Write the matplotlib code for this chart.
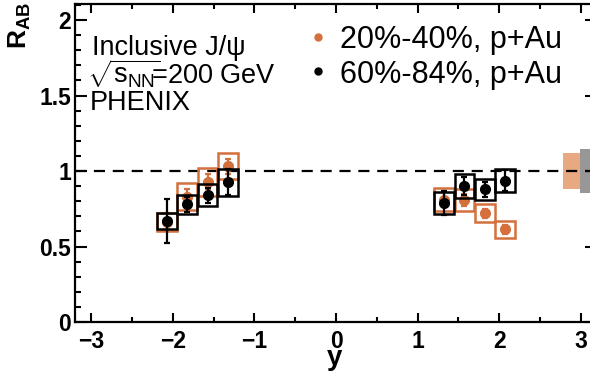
import matplotlib
matplotlib.use("Agg")
import matplotlib.pyplot as plt
from matplotlib.patches import Rectangle
import numpy as np

plt.rcParams['font.family'] = ['Liberation Sans', 'DejaVu Sans']
plt.rcParams['mathtext.fontset'] = 'custom'
plt.rcParams['mathtext.rm'] = 'Liberation Sans'
plt.rcParams['mathtext.it'] = 'Liberation Sans:italic'
plt.rcParams['mathtext.bf'] = 'Liberation Sans:bold'

# ---- data ----
y_bins = [-2.075, -1.825, -1.575, -1.325, 1.325, 1.575, 1.825, 2.075]
box_halfwidth = 0.12

# 20%-40%, p+Au
r_2040 = [0.66, 0.83, 0.93, 1.03, 0.81, 0.81, 0.72, 0.615]
stat_2040 = [0.06, 0.05, 0.05, 0.05, 0.05, 0.04, 0.03, 0.03]
syst_2040 = [0.06, 0.09, 0.093, 0.086, 0.075, 0.072, 0.06, 0.056]

# 60%-84%, p+Au
r_6084 = [0.669, 0.78, 0.84, 0.925, 0.786, 0.90, 0.88, 0.936]
stat_6084 = [0.146, 0.05, 0.05, 0.085, 0.08, 0.06, 0.05, 0.07]
syst_6084 = [0.056, 0.063, 0.072, 0.09, 0.073, 0.08, 0.07, 0.075]

# global uncertainty bands
glob_2040 = 0.12
glob_6084 = 0.145

labels_2040 = "20%-40%, p+Au"
labels_6084 = "60%-84%, p+Au"

orange = '#d4703c'
orange_band = '#e8a882'
grey_band = '#979797'

fig = plt.figure(figsize=(5.9, 3.72), dpi=100)
ax = fig.add_axes([75/590, 50/372, 522/590, 318/372])
ax.set_xlim(-3.2, 3.2)
ax.set_ylim(0, 2.106)

# global bands
ax.add_patch(Rectangle((2.78, 1 - glob_2040), 0.21, 2 * glob_2040,
                       facecolor=orange_band, edgecolor='none', zorder=1))
ax.add_patch(Rectangle((2.99, 1 - glob_6084), 0.21, 2 * glob_6084,
                       facecolor=grey_band, edgecolor='none', zorder=1))

ax.axhline(1.0, color='black', lw=1.6, ls=(0, (5, 3.5)), zorder=2)

def draw_series(vals, stat, syst, color, z):
    for x, v, s in zip(y_bins, vals, syst):
        ax.add_patch(Rectangle((x - box_halfwidth, v - s), 2 * box_halfwidth, 2 * s,
                               facecolor='none', edgecolor=color, lw=1.8, zorder=z))
    ax.errorbar(y_bins, vals, yerr=stat, fmt='o', color=color, ms=7,
                elinewidth=1.6, capsize=2.5, capthick=1.6, zorder=z + 1)

draw_series(r_2040, stat_2040, syst_2040, orange, 3)
draw_series(r_6084, stat_6084, syst_6084, 'black', 5)

# ticks
ax.set_xticks([-3, -2, -1, 0, 1, 2, 3])
ax.set_xticks(np.arange(-3, 3.01, 0.5), minor=True)
ax.set_yticks([0, 0.5, 1, 1.5, 2])
ax.set_yticklabels(['0', '0.5', '1', '1.5', '2'])
ax.set_yticks(np.arange(0, 2.101, 0.1), minor=True)
ax.tick_params(axis='both', which='both', direction='in', top=True, right=True,
               width=1.5, labelsize=16.5)
ax.tick_params(axis='x', which='major', length=6.5, pad=6)
ax.tick_params(axis='x', which='minor', length=3.6)
ax.tick_params(axis='y', which='major', length=8.5, pad=3)
ax.tick_params(axis='y', which='minor', length=4.3)
for lab in ax.get_xticklabels() + ax.get_yticklabels():
    lab.set_fontweight('bold')
for sp in ax.spines.values():
    sp.set_linewidth(1.6)

fig.text(335/590, 1 - 371/372, 'y', fontsize=20, fontweight='bold',
         ha='center', va='bottom')
fig.text(20/590, 1 - 2/372, r'$\mathbf{R}_{\mathbf{AB}}$', rotation=90,
         ha='center', va='top', fontsize=19)

def axf(px, py):
    return ((px - 75) / 522, (322 - py) / 318)

fs = 19.5
ax.text(*axf(92, 55), 'Inclusive J/\u03c8', transform=ax.transAxes,
        fontsize=fs, va='baseline', ha='left')
ax.text(*axf(87, 84), r'$\sqrt{\mathrm{s}_{\mathrm{NN}}}\!\!$=200 GeV', transform=ax.transAxes,
        fontsize=fs, va='baseline', ha='left')
ax.text(*axf(90, 110), 'PHENIX', transform=ax.transAxes,
        fontsize=fs, va='baseline', ha='left')

# legend
lfs = 22
ax.plot(*axf(318, 37), 'o', color=orange, ms=5, transform=ax.transAxes, clip_on=False)
ax.text(*axf(340, 48), labels_2040, transform=ax.transAxes,
        fontsize=lfs, va='baseline', ha='left')
ax.plot(*axf(318, 71), 'o', color='black', ms=5, transform=ax.transAxes, clip_on=False)
ax.text(*axf(340, 83), labels_6084, transform=ax.transAxes,
        fontsize=lfs, va='baseline', ha='left')

fig.savefig('out.png', dpi=100)
